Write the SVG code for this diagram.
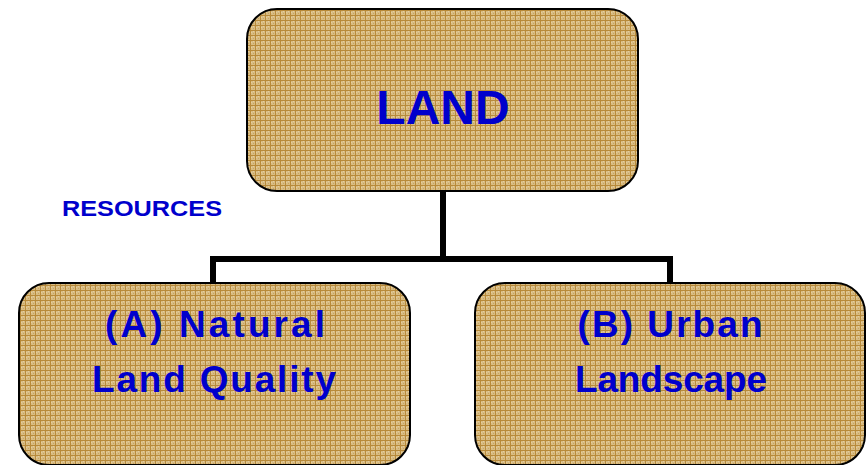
<svg xmlns="http://www.w3.org/2000/svg" width="866" height="465" viewBox="0 0 866 465">
<defs>
<pattern id="tex" width="5" height="5" patternUnits="userSpaceOnUse">
<rect width="5" height="5" fill="#D8BC84"/>
<rect x="1" y="2" width="1" height="1" fill="#E6CFA0"/>
<rect x="3" y="1" width="1" height="1" fill="#E6CFA0"/>
<rect x="3" y="3" width="1" height="1" fill="#C9A460"/>
<rect x="0" y="0" width="5" height="1" fill="#B88A3A"/>
<rect x="0" y="0" width="1" height="5" fill="#B88A3A"/>
</pattern>
<style>
.box{fill:url(#tex);stroke:#000;stroke-width:2}
.lbl{font-family:"Liberation Sans",Arial,sans-serif;font-weight:bold;fill:#0000CC;text-anchor:middle}
.con{fill:none;stroke:#000;stroke-width:6}
</style>
</defs>
<g id="connectors">
<path class="con" d="M443 191 V259 M213 283 V259 H670 V283"/>
</g>
<g id="land">
<rect class="box" x="247" y="9" width="391" height="182" rx="30" ry="30"/>
<text class="lbl" x="443" y="124" font-size="48">LAND</text>
</g>
<g id="resources">
<text class="lbl" x="142" y="216" font-size="22" textLength="160" lengthAdjust="spacingAndGlyphs" style="text-anchor:middle">RESOURCES</text>
</g>
<g id="natural">
<rect class="box" x="19" y="283" width="391" height="182" rx="30" ry="30"/>
<text class="lbl" x="215" y="337" font-size="37" textLength="220" lengthAdjust="spacing">(A) Natural</text>
<text class="lbl" x="214" y="392" font-size="37" textLength="244" lengthAdjust="spacing">Land Quality</text>
</g>
<g id="urban">
<rect class="box" x="475" y="283" width="390" height="182" rx="30" ry="30"/>
<text class="lbl" x="670" y="337" font-size="37" textLength="185" lengthAdjust="spacing">(B) Urban</text>
<text class="lbl" x="671" y="392" font-size="37" textLength="192" lengthAdjust="spacing">Landscape</text>
</g>
</svg>
